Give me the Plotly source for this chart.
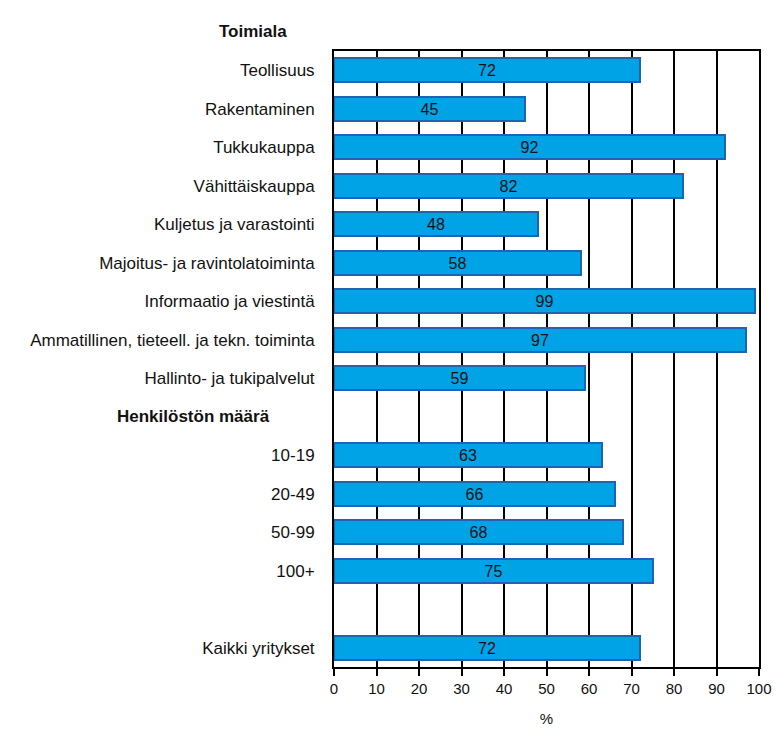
import plotly.graph_objects as go

# rows top to bottom; None = header row / empty spacer
labels = ["Teollisuus", "Rakentaminen", "Tukkukauppa", "Vähittäiskauppa",
          "Kuljetus ja varastointi", "Majoitus- ja ravintolatoiminta",
          "Informaatio ja viestintä", "Ammatillinen, tieteell. ja tekn. toiminta",
          "Hallinto- ja tukipalvelut", "",
          "10-19", "20-49", "50-99", "100+", "", "Kaikki yritykset"]
values = [72, 45, 92, 82, 48, 58, 99, 97, 59, None, 63, 66, 68, 75, None, 72]
headers = ["Toimiala", "Henkilöstön määrä"]
header_rows = [-1, 9]
x_ticks = list(range(0, 101, 10))

rows = list(range(len(labels)))
bar_y = [r for r, v in zip(rows, values) if v is not None]
bar_x = [v for v in values if v is not None]

FONT = "Liberation Sans"

fig = go.Figure()
fig.add_trace(go.Bar(
    x=bar_x, y=bar_y, orientation="h", width=0.63,
    marker=dict(color="#00A3E6", line=dict(color="#1E64B0", width=2)),
    text=[str(v) for v in bar_x], textposition="inside",
    insidetextanchor="middle", textangle=0,
    textfont=dict(color="#111111", size=16, family=FONT),
    showlegend=False, hoverinfo="x+y",
))

# headers sit in the label column, right edges at different spots
for txt, r, shift in zip(headers, header_rows, [-45, -62]):
    # convert row to paper fraction (16 rows, reversed axis)
    yp = 1 - (r + 0.5) / len(labels)
    fig.add_annotation(x=0, y=yp, xref="paper", yref="paper", text="<b>" + txt + "</b>",
                       showarrow=False, xanchor="right", yanchor="middle", xshift=shift,
                       font=dict(size=17, color="#111111", family=FONT))

fig.update_layout(
    width=777, height=729,
    margin=dict(l=334, r=18, t=51, b=62),
    paper_bgcolor="white", plot_bgcolor="white",
    font=dict(family=FONT, size=17, color="#111111"),
    bargap=0,
)
fig.update_xaxes(range=[0, 100], tickvals=x_ticks, showgrid=True, gridcolor="black",
                 gridwidth=2, showline=True, linecolor="black", linewidth=2,
                 mirror=True, ticks="outside", ticklen=7, tickwidth=2, tickcolor="black",
                 tickfont=dict(size=15), automargin=False,
                 title=dict(text="%", font=dict(size=15), standoff=17), zeroline=False)
fig.update_yaxes(range=[len(labels) - 0.5, -0.5], tickvals=rows, ticktext=labels,
                 showgrid=False, showline=True, linecolor="black", linewidth=2,
                 mirror=True, ticks="", ticklabelstandoff=14, zeroline=False,
                 automargin=False)

# drop the default page margin so the figure fills the window exactly
fig.write_html("out.html", config={"displayModeBar": False},
               post_script="document.body.style.margin='0';document.body.style.overflow='hidden';")
